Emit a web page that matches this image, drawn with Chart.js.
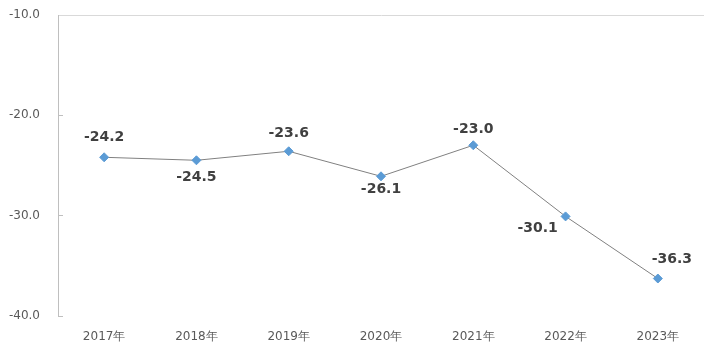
<!DOCTYPE html>
<html><head><meta charset="utf-8">
<script src="https://cdn.jsdelivr.net/npm/chart.js@4/dist/chart.umd.min.js"></script>
<style>html,body{margin:0;padding:0;background:#fff}#w{width:717px;height:357px}</style>
</head><body><div id="w"><canvas id="c"></canvas></div>
<script>
const categories = ["2017年","2018年","2019年","2020年","2021年","2022年","2023年"];
const values = [-24.2,-24.5,-23.6,-26.1,-23.0,-30.1,-36.3];
const yTicks = [-40,-30,-20,-10];
// label offsets (style only): [dx, dy] relative to point
const labelOffsets = [[0,-20],[0,17],[0,-18],[0,13],[0,-16],[-28,12],[14,-19]];

const overlay = {
  id:'overlay',
  afterDraw(chart){
    const ctx = chart.ctx, y = chart.scales.y, a = chart.chartArea;
    ctx.save();
    ctx.strokeStyle = '#bfbfbf'; ctx.lineWidth = 1;
    yTicks.forEach(v=>{ if(v===-10) return; const py=Math.round(y.getPixelForValue(v))+0.5; ctx.beginPath(); ctx.moveTo(a.left,py); ctx.lineTo(a.left+5,py); ctx.stroke(); });
    ctx.font = 'bold 14px "DejaVu Sans"';
    ctx.fillStyle = '#404040'; ctx.textAlign='center'; ctx.textBaseline='middle';
    const meta = chart.getDatasetMeta(0);
    meta.data.forEach((p,i)=>{ const o=labelOffsets[i]; ctx.fillText(values[i].toFixed(1), p.x+o[0], p.y+o[1]); });
    ctx.restore();
  }
};

new Chart(document.getElementById('c'),{
  type:'line',
  data:{labels:categories,datasets:[{data:values,borderColor:'#808080',borderWidth:1,pointStyle:'rectRot',pointRadius:4.5,pointHoverRadius:4.5,pointBackgroundColor:'#5b9bd5',pointBorderColor:'#5b9bd5',tension:0}]},
  options:{
    responsive:true,maintainAspectRatio:false,animation:false,
    layout:{padding:{left:0,right:13,top:15,bottom:7}},
    plugins:{legend:{display:false},tooltip:{enabled:false}},
    scales:{
      x:{offset:true,grid:{display:false},border:{display:false},ticks:{color:'#595959',font:{family:'"DejaVu Sans"',size:12},padding:6}},
      y:{min:-40,max:-10,afterBuildTicks(ax){ax.ticks=yTicks.map(v=>({value:v}));},
         afterFit(ax){ax.width=58;ax.paddingTop=0;ax.paddingBottom=0;},
         grid:{color:ctx=>ctx.tick&&ctx.tick.value===-10?'#d9d9d9':'rgba(0,0,0,0)',drawTicks:false,lineWidth:1},
         border:{display:true,color:'#bfbfbf'},
         ticks:{color:'#595959',font:{family:'"DejaVu Sans"',size:12},padding:18,callback:v=>Number(v).toFixed(1)}}
    }
  },
  plugins:[overlay]
});
</script></body></html>
